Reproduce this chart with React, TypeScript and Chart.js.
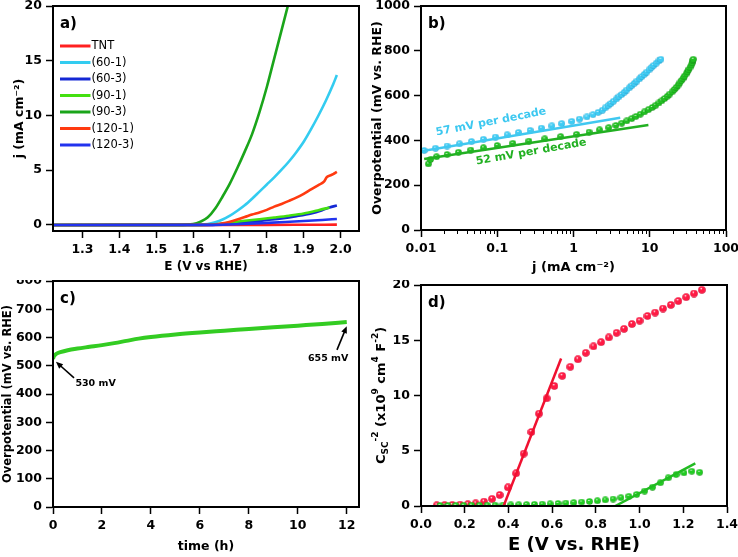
import React, { useEffect, useRef } from "react";
import { Chart, registerables } from "chart.js";
Chart.register(...registerables);

const FF = "'DejaVu Sans', Verdana, sans-serif";
const BLACK = "#000";

// ---------------- Panel a: LSV curves ----------------
const aLabels = ["TNT", "(60-1)", "(60-3)", "(90-1)", "(90-3)", "(120-1)", "(120-3)"];
const aColors = ["#ff2020", "#33ccf0", "#1428d4", "#44e010", "#1aa51a", "#ff3a10", "#2233ee"];
const aE_TNT = [1.22, 1.6, 1.8, 1.9, 1.99];
const aJ_TNT = [0, 0, 0.01, 0.02, 0.03];
const aE_601 = [1.22, 1.6, 1.62, 1.64, 1.66, 1.68, 1.7, 1.72, 1.74, 1.76, 1.78, 1.8, 1.82, 1.84, 1.86, 1.88, 1.9, 1.92, 1.94, 1.96, 1.98, 1.99];
const aJ_601 = [0, 0.01, 0.02, 0.08, 0.25, 0.5, 0.85, 1.3, 1.8, 2.4, 3.05, 3.7, 4.35, 5.05, 5.8, 6.65, 7.6, 8.75, 10.0, 11.35, 12.85, 13.7];
const aE_603 = [1.22, 1.64, 1.68, 1.72, 1.76, 1.8, 1.84, 1.88, 1.92, 1.95, 1.97, 1.99];
const aJ_603 = [0, 0.01, 0.08, 0.18, 0.3, 0.45, 0.6, 0.8, 1.05, 1.35, 1.6, 1.78];
const aE_901 = [1.22, 1.62, 1.66, 1.7, 1.74, 1.78, 1.82, 1.86, 1.9, 1.94, 1.97];
const aJ_901 = [0, 0.01, 0.06, 0.22, 0.38, 0.52, 0.68, 0.85, 1.05, 1.35, 1.6];
const aE_903 = [1.22, 1.56, 1.6, 1.62, 1.64, 1.66, 1.68, 1.7, 1.72, 1.74, 1.76, 1.78, 1.8, 1.82, 1.84, 1.86];
const aJ_903 = [0, 0.01, 0.08, 0.3, 0.7, 1.5, 2.6, 3.8, 5.2, 6.7, 8.3, 10.3, 12.6, 15.2, 17.8, 20.4];
const aE_1201 = [1.22, 1.64, 1.66, 1.68, 1.7, 1.72, 1.74, 1.76, 1.78, 1.8, 1.82, 1.84, 1.86, 1.88, 1.9, 1.92, 1.94, 1.955, 1.962, 1.97, 1.98, 1.99];
const aJ_1201 = [0, 0.01, 0.05, 0.15, 0.3, 0.5, 0.72, 0.95, 1.15, 1.38, 1.68, 1.92, 2.2, 2.5, 2.85, 3.25, 3.65, 3.95, 4.35, 4.5, 4.65, 4.85];
const aE_1203 = [1.22, 1.66, 1.7, 1.75, 1.8, 1.85, 1.9, 1.95, 1.99];
const aJ_1203 = [0, 0.01, 0.05, 0.12, 0.19, 0.27, 0.36, 0.46, 0.55];
const aXTicks = [1.3, 1.4, 1.5, 1.6, 1.7, 1.8, 1.9, 2.0];
const aYTicks = [0, 5, 10, 15, 20];

// ---------------- Panel b: Tafel ----------------
const bCyanJ = [0.011, 0.0155, 0.022, 0.032, 0.046, 0.066, 0.095, 0.135, 0.19, 0.27, 0.38, 0.52, 0.7, 0.95, 1.2, 1.5, 1.8, 2.1, 2.4, 2.6, 2.85, 3.1, 3.35, 3.65, 3.95, 4.3, 4.65, 5.0, 5.4, 5.85, 6.3, 6.8, 7.35, 7.9, 8.5, 9.15, 9.8, 10.5, 11.3, 12.2, 13.2, 14.0];
const bCyanEta = [355, 365, 375, 385, 395, 405, 415, 425, 435, 445, 455, 465, 475, 485, 495, 505, 515, 525, 535, 545, 555, 565, 575, 585, 595, 605, 615, 625, 635, 645, 655, 665, 675, 685, 695, 705, 715, 725, 735, 745, 755, 762];
const bGreenJ = [0.0125, 0.0133, 0.016, 0.022, 0.031, 0.045, 0.066, 0.1, 0.16, 0.26, 0.42, 0.68, 1.1, 1.6, 2.2, 2.9, 3.6, 4.3, 5.0, 5.8, 6.6, 7.5, 8.5, 9.6, 10.8, 12.0, 13.2, 14.4, 15.7, 17.0, 18.3, 19.7, 21.0, 22.3, 23.6, 24.8, 26.0, 27.3, 28.6, 30.0, 31.3, 32.6, 33.8, 35.0, 36.0, 36.8, 37.2];
const bGreenEta = [295, 315, 327, 337, 347, 357, 367, 377, 387, 397, 407, 417, 427, 437, 447, 457, 467, 477, 487, 497, 507, 517, 527, 537, 547, 557, 567, 577, 587, 597, 607, 617, 627, 637, 647, 657, 667, 677, 687, 697, 707, 717, 727, 737, 747, 757, 762];
const bCyanFitJ = [0.01, 4.1];
const bCyanFitEta = [352, 501];
const bGreenFitJ = [0.011, 9.6];
const bGreenFitEta = [317, 469];
const bXTicks = [0.01, 0.1, 1, 10, 100];
const bYTicks = [0, 200, 400, 600, 800, 1000];
const bNotes = [
  { text: "57 mV per decade", x: 0.083, y: 482, rot: -11, color: "#3cc8f0" },
  { text: "52 mV per decade", x: 0.278, y: 348, rot: -10, color: "#22b022" },
];

// ---------------- Panel c: stability ----------------
const cTime = [0, 0.03, 0.08, 0.15, 0.3, 0.6, 1, 1.5, 2, 2.5, 3, 3.5, 4, 5, 6, 7, 8, 9, 10, 11, 12];
const cEta = [525, 532, 538, 543, 548, 555, 561, 567, 573, 580, 588, 596, 602, 611, 618, 624, 630, 636, 642, 648, 655];
const cXTicks = [0, 2, 4, 6, 8, 10, 12];
const cYTicks = [0, 100, 200, 300, 400, 500, 600, 700, 800];
const cNotes = [
  { text: "530 mV", tx: 1.74, ty: 436, fromX: 0.86, fromY: 457, toX: 0.12, toY: 514 },
  { text: "655 mV", tx: 11.24, ty: 524, fromX: 11.6, fromY: 556, toX: 12.0, toY: 640 },
];

// ---------------- Panel d: Mott-Schottky ----------------
const dRedE = [0.072, 0.108, 0.143, 0.179, 0.214, 0.25, 0.288, 0.325, 0.36, 0.398, 0.435, 0.47, 0.505, 0.54, 0.575, 0.61, 0.646, 0.683, 0.718, 0.754, 0.789, 0.824, 0.859, 0.895, 0.929, 0.965, 1.0, 1.036, 1.071, 1.107, 1.143, 1.177, 1.213, 1.249, 1.285];
const dRedC = [0.06, 0.08, 0.1, 0.12, 0.16, 0.24, 0.4, 0.65, 1.0, 1.69, 2.96, 4.74, 6.7, 8.36, 9.74, 10.86, 11.78, 12.6, 13.28, 13.86, 14.45, 14.83, 15.26, 15.67, 16.03, 16.47, 16.77, 17.2, 17.5, 17.87, 18.2, 18.55, 18.9, 19.23, 19.56];
const dGreenE = [0.087, 0.123, 0.159, 0.195, 0.231, 0.267, 0.303, 0.339, 0.375, 0.411, 0.447, 0.483, 0.519, 0.555, 0.591, 0.627, 0.663, 0.699, 0.735, 0.771, 0.807, 0.843, 0.879, 0.915, 0.951, 0.987, 1.023, 1.059, 1.095, 1.131, 1.167, 1.203, 1.239, 1.275];
const dGreenC = [0.05, 0.05, 0.06, 0.06, 0.07, 0.07, 0.08, 0.08, 0.09, 0.1, 0.11, 0.13, 0.15, 0.17, 0.2, 0.23, 0.27, 0.31, 0.36, 0.41, 0.47, 0.55, 0.63, 0.75, 0.88, 1.05, 1.35, 1.7, 2.1, 2.55, 2.85, 3.0, 3.15, 3.05];
const dRedFitE = [0.378, 0.641];
const dRedFitC = [0, 13.35];
const dGreenFitE = [0.889, 1.255];
const dGreenFitC = [0, 3.86];
const dXTicks = [0, 0.2, 0.4, 0.6, 0.8, 1.0, 1.2, 1.4];
const dYTicks = [0, 5, 10, 15, 20];

const pts = (xs: number[], ys: number[]) => xs.map((x, i) => ({ x, y: ys[i] }));

function sphere(base: string, dark: string, d: number) {
  const c = document.createElement("canvas");
  c.width = d;
  c.height = d;
  const g = c.getContext("2d")!;
  const r = d / 2;
  const grad = g.createRadialGradient(r * 0.8, r * 0.6, r * 0.05, r, r, r);
  grad.addColorStop(0, "#ffffff");
  grad.addColorStop(0.28, base);
  grad.addColorStop(0.8, base);
  grad.addColorStop(1, dark);
  g.fillStyle = grad;
  g.beginPath();
  g.arc(r, r, r - 0.2, 0, Math.PI * 2);
  g.fill();
  return c;
}

function axis(o: any) {
  const horiz = o.position === "bottom";
  return {
    type: o.type || "linear",
    position: o.position,
    min: o.min,
    max: o.max,
    afterBuildTicks: (s: any) => {
      s.ticks = o.ticks.map((v: number) => ({ value: v }));
    },
    afterFit: (s: any) => {
      if (horiz) s.height = o.size;
      else s.width = o.size;
      s.paddingTop = 0;
      s.paddingBottom = 0;
      s.paddingLeft = 0;
      s.paddingRight = 0;
    },
    grid: { display: true, drawOnChartArea: false, drawTicks: true, tickLength: 7, tickWidth: 1.5, tickColor: BLACK },
    border: { display: true, color: BLACK, width: 2 },
    ticks: {
      color: BLACK,
      autoSkip: false,
      maxRotation: 0,
      padding: 4,
      font: { family: FF, size: 12.5, weight: "bold" },
      callback: (v: any) => (o.fmt ? o.fmt(Number(v)) : String(v)),
    },
    title: o.title
      ? {
          display: true,
          text: o.title,
          color: BLACK,
          font: { family: FF, size: o.titleSize || 12.5, weight: "bold" },
          padding: horiz ? { top: 0, bottom: o.titlePad } : { top: o.titlePad, bottom: 0 },
        }
      : { display: false },
  };
}

const framePlugin = {
  id: "frame",
  afterDatasetsDraw(chart: any) {
    const { ctx, chartArea: a } = chart;
    ctx.save();
    ctx.strokeStyle = BLACK;
    ctx.lineWidth = 2;
    ctx.strokeRect(a.left, a.top, a.right - a.left, a.bottom - a.top);
    ctx.restore();
  },
};

const panelLabel = (text: string) => ({
  id: "panelLabel",
  afterDraw(chart: any) {
    const { ctx, chartArea: a } = chart;
    ctx.save();
    ctx.font = `bold 15px ${FF}`;
    ctx.fillStyle = BLACK;
    ctx.textBaseline = "alphabetic";
    ctx.textAlign = "left";
    ctx.fillText(text, a.left + 7, a.top + 22);
    ctx.restore();
  },
});

const legendA = {
  id: "legendA",
  afterDraw(chart: any) {
    const { ctx, chartArea: a } = chart;
    ctx.save();
    ctx.font = `11.5px ${FF}`;
    ctx.textBaseline = "middle";
    ctx.textAlign = "left";
    aLabels.forEach((lab, i) => {
      const y = a.top + 40 + i * 16.5;
      ctx.strokeStyle = aColors[i];
      ctx.lineWidth = 3;
      ctx.beginPath();
      ctx.moveTo(a.left + 7, y);
      ctx.lineTo(a.left + 37.5, y);
      ctx.stroke();
      ctx.fillStyle = BLACK;
      ctx.fillText(lab, a.left + 38.5, y + 0.5);
    });
    ctx.restore();
  },
};

const minorLogTicks = {
  id: "minorLog",
  afterDraw(chart: any) {
    const { ctx } = chart;
    const xs = chart.scales.x;
    ctx.save();
    ctx.strokeStyle = BLACK;
    ctx.lineWidth = 1;
    for (let d = 0; d < bXTicks.length - 1; d++) {
      for (let m = 2; m <= 9; m++) {
        const px = Math.round(xs.getPixelForValue(bXTicks[d] * m)) + 0.5;
        ctx.beginPath();
        ctx.moveTo(px, xs.top);
        ctx.lineTo(px, xs.top + 4);
        ctx.stroke();
      }
    }
    ctx.restore();
  },
};

const notesB = {
  id: "notesB",
  afterDraw(chart: any) {
    const { ctx } = chart;
    const xs = chart.scales.x;
    const ys = chart.scales.y;
    ctx.save();
    ctx.font = `bold 11px ${FF}`;
    ctx.textAlign = "center";
    ctx.textBaseline = "middle";
    bNotes.forEach((n) => {
      ctx.save();
      ctx.translate(xs.getPixelForValue(n.x), ys.getPixelForValue(n.y));
      ctx.rotate((n.rot * Math.PI) / 180);
      ctx.fillStyle = n.color;
      ctx.fillText(n.text, 0, 0);
      ctx.restore();
    });
    ctx.restore();
  },
};

function drawArrow(ctx: CanvasRenderingContext2D, x1: number, y1: number, x2: number, y2: number) {
  const ang = Math.atan2(y2 - y1, x2 - x1);
  const hl = 7;
  const hw = 3;
  const c = Math.cos(ang);
  const s = Math.sin(ang);
  ctx.beginPath();
  ctx.moveTo(x1, y1);
  ctx.lineTo(x2 - hl * 0.8 * c, y2 - hl * 0.8 * s);
  ctx.stroke();
  ctx.beginPath();
  ctx.moveTo(x2, y2);
  ctx.lineTo(x2 - hl * c + hw * s, y2 - hl * s - hw * c);
  ctx.lineTo(x2 - hl * c - hw * s, y2 - hl * s + hw * c);
  ctx.closePath();
  ctx.fill();
}

const notesC = {
  id: "notesC",
  afterDraw(chart: any) {
    const { ctx } = chart;
    const xs = chart.scales.x;
    const ys = chart.scales.y;
    ctx.save();
    ctx.strokeStyle = BLACK;
    ctx.fillStyle = BLACK;
    ctx.lineWidth = 1.6;
    ctx.font = `bold 9.5px ${FF}`;
    ctx.textAlign = "center";
    ctx.textBaseline = "middle";
    cNotes.forEach((n) => {
      drawArrow(ctx, xs.getPixelForValue(n.fromX), ys.getPixelForValue(n.fromY), xs.getPixelForValue(n.toX), ys.getPixelForValue(n.toY));
      ctx.fillText(n.text, xs.getPixelForValue(n.tx), ys.getPixelForValue(n.ty));
    });
    ctx.restore();
  },
};

const titleD = {
  id: "titleD",
  afterDraw(chart: any) {
    const { ctx, chartArea: a } = chart;
    const segs = [
      { t: "C", s: 13, dy: 0 },
      { t: "SC", s: 9, dy: 3.5 },
      { t: "-2", s: 9, dy: -6 },
      { t: " (x10", s: 13, dy: 0 },
      { t: "9", s: 9, dy: -6 },
      { t: " cm", s: 13, dy: 0 },
      { t: "4", s: 9, dy: -6 },
      { t: " F", s: 13, dy: 0 },
      { t: "-2", s: 9, dy: -6 },
      { t: ")", s: 13, dy: 0 },
    ];
    ctx.save();
    let total = 0;
    const widths = segs.map((g) => {
      ctx.font = `bold ${g.s}px ${FF}`;
      const w = ctx.measureText(g.t).width;
      total += w;
      return w;
    });
    ctx.translate(12, (a.top + a.bottom) / 2);
    ctx.rotate(-Math.PI / 2);
    ctx.fillStyle = BLACK;
    ctx.textBaseline = "middle";
    ctx.textAlign = "left";
    let x = -total / 2;
    segs.forEach((g, i) => {
      ctx.font = `bold ${g.s}px ${FF}`;
      ctx.fillText(g.t, x, g.dy + 1);
      x += widths[i];
    });
    ctx.restore();
  },
};

const baseOpts = (padding: any, scales: any) => ({
  responsive: false,
  animation: false as const,
  events: [] as any[],
  layout: { padding },
  plugins: { legend: { display: false }, tooltip: { enabled: false } },
  scales,
});

export default function App() {
  const ra = useRef<HTMLCanvasElement>(null);
  const rb = useRef<HTMLCanvasElement>(null);
  const rc = useRef<HTMLCanvasElement>(null);
  const rd = useRef<HTMLCanvasElement>(null);

  useEffect(() => {
    const charts: Chart[] = [];
    const aSeries = [
      [aE_TNT, aJ_TNT],
      [aE_601, aJ_601],
      [aE_603, aJ_603],
      [aE_901, aJ_901],
      [aE_903, aJ_903],
      [aE_1201, aJ_1201],
      [aE_1203, aJ_1203],
    ];
    charts.push(
      new Chart(ra.current!, {
        type: "scatter",
        data: {
          datasets: aSeries.map((s, i) => ({
            label: aLabels[i],
            data: pts(s[0], s[1]),
            showLine: true,
            borderColor: aColors[i],
            backgroundColor: aColors[i],
            borderWidth: 2.6,
            pointRadius: 0,
            cubicInterpolationMode: "monotone" as const,
            order: -i,
          })),
        },
        options: baseOpts({ top: 6, right: 10, left: 0, bottom: 0 }, {
          x: axis({ position: "bottom", min: 1.22, max: 2.05, ticks: aXTicks, fmt: (v: number) => v.toFixed(1), size: 49, title: "E (V vs RHE)", titleSize: 12, titlePad: 5.5 }),
          y: axis({ position: "left", min: -0.55, max: 20, ticks: aYTicks, size: 53, title: "j (mA cm\u207B\u00B2)", titleSize: 12.5, titlePad: 12 }),
        }) as any,
        plugins: [framePlugin, legendA, panelLabel("a)")],
      })
    );

    const cyanBall = sphere("#40ccf4", "#1e90c0", 7);
    const greenBall = sphere("#22c022", "#0f7a0f", 7);
    charts.push(
      new Chart(rb.current!, {
        type: "scatter",
        data: {
          datasets: [
            { data: pts(bCyanFitJ, bCyanFitEta), showLine: true, borderColor: "#40c8f0", borderWidth: 2.5, pointRadius: 0, order: 0 },
            { data: pts(bGreenFitJ, bGreenFitEta), showLine: true, borderColor: "#22b022", borderWidth: 2.5, pointRadius: 0, order: 0 },
            { data: pts(bCyanJ, bCyanEta), pointStyle: cyanBall as any, pointRadius: 3.5, order: 1 },
            { data: pts(bGreenJ, bGreenEta), pointStyle: greenBall as any, pointRadius: 3.5, order: 1 },
          ],
        },
        options: baseOpts({ top: 6, right: 12, left: 0, bottom: 0 }, {
          x: axis({ type: "logarithmic", position: "bottom", min: 0.01, max: 100, ticks: bXTicks, size: 50, title: "j (mA cm\u207B\u00B2)", titleSize: 13, titlePad: 5 }),
          y: axis({ position: "left", min: 0, max: 1000, ticks: bYTicks, size: 52, title: "Overpotential (mV vs. RHE)", titleSize: 12.5, titlePad: 1 }),
        }) as any,
        plugins: [framePlugin, minorLogTicks, notesB, panelLabel("b)")],
      })
    );

    charts.push(
      new Chart(rc.current!, {
        type: "scatter",
        data: {
          datasets: [
            { data: pts(cTime, cEta), showLine: true, borderColor: "#33cc22", borderWidth: 4, pointRadius: 0, cubicInterpolationMode: "monotone" as const },
          ],
        },
        options: baseOpts({ top: 1, right: 10, left: 0, bottom: 0 }, {
          x: axis({ position: "bottom", min: 0, max: 12.5, ticks: cXTicks, size: 50, title: "time (h)", titleSize: 12.5, titlePad: 3 }),
          y: axis({ position: "left", min: 0, max: 800, ticks: cYTicks, size: 53, title: "Overpotential (mV vs. RHE)", titleSize: 11.5, titlePad: 1.6 }),
        }) as any,
        plugins: [framePlugin, notesC, panelLabel("c)")],
      })
    );

    const redBall = sphere("#ff1a44", "#c0002a", 8);
    const greenBall2 = sphere("#22cc22", "#108010", 7);
    charts.push(
      new Chart(rd.current!, {
        type: "scatter",
        data: {
          datasets: [
            { data: pts(dRedFitE, dRedFitC), showLine: true, borderColor: "#f01030", borderWidth: 2.5, pointRadius: 0, order: 0 },
            { data: pts(dGreenFitE, dGreenFitC), showLine: true, borderColor: "#22bb22", borderWidth: 2.5, pointRadius: 0, order: 0 },
            { data: pts(dGreenE, dGreenC), pointStyle: greenBall2 as any, pointRadius: 3.5, order: 1 },
            { data: pts(dRedE, dRedC), pointStyle: redBall as any, pointRadius: 4, order: 1 },
          ],
        },
        options: baseOpts({ top: 1, right: 11, left: 0, bottom: 0 }, {
          x: axis({ position: "bottom", min: 0, max: 1.4, ticks: dXTicks, fmt: (v: number) => v.toFixed(1), size: 51, title: "E (V vs. RHE)", titleSize: 18, titlePad: 1.2 }),
          y: axis({ position: "left", min: 0, max: 20, ticks: dYTicks, size: 52 }),
        }) as any,
        plugins: [framePlugin, titleD, panelLabel("d)")],
      })
    );

    return () => charts.forEach((c) => c.destroy());
  }, []);

  const box = (left: number, top: number, w: number, h: number): React.CSSProperties => ({
    position: "absolute",
    left,
    top,
    width: w,
    height: h,
  });

  return (
    <div style={{ position: "fixed", left: 0, top: 0, width: 738, height: 557, background: "#fff", overflow: "hidden" }}>
      <canvas ref={ra} width={369} height={280} style={box(0, 0, 369, 280)} />
      <canvas ref={rb} width={369} height={280} style={box(369, 0, 369, 280)} />
      <canvas ref={rc} width={369} height={277} style={box(0, 280, 369, 277)} />
      <canvas ref={rd} width={369} height={277} style={box(369, 280, 369, 277)} />
    </div>
  );
}
